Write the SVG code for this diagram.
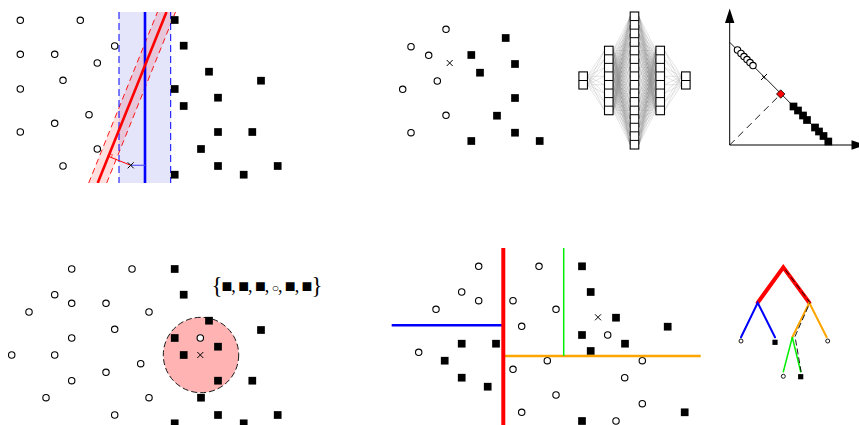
<svg xmlns="http://www.w3.org/2000/svg" xmlns:xlink="http://www.w3.org/1999/xlink" width="859" height="425" viewBox="0 0 859 425">
<style>
.c{fill:#fff;stroke:#000;stroke-width:1.1}
.q{fill:#000}
.xm{stroke:#000;stroke-width:1;fill:none}
.lc{fill:#fff;stroke:#000;stroke-width:0.9}
.nn{fill:none;stroke:#888;stroke-width:0.5;stroke-opacity:0.45}
.box{fill:#fff;stroke:#000;stroke-width:1.1}
</style>
<defs>
<circle id="o" class="c" r="3.2"/>
<rect id="s" class="q" x="-3.85" y="-3.85" width="7.7" height="7.7"/>
<path id="x" class="xm" d="M-3 -3L3 3M-3 3L3 -3"/>
<circle id="lo" class="lc" r="2"/>
<rect id="ls" class="q" x="-2.6" y="-2.6" width="5.2" height="5.2"/>
<clipPath id="clipA"><rect x="80" y="12" width="100" height="171"/></clipPath>
</defs>
<rect width="859" height="425" fill="#fff"/>

<!-- Panel 1: SVM vs linear -->
<g id="panel-svm">
<g clip-path="url(#clipA)">
<rect x="119" y="12" width="51.7" height="171" fill="#e4e4fb"/>
<polygon points="88.7,183 157.5,12 175.5,12 106.7,183" fill="#ff0000" fill-opacity="0.13"/>
<path d="M88.7 183L157.5 12M106.7 183L175.5 12" stroke="#ff0000" stroke-width="0.9" stroke-dasharray="6 4" fill="none"/>
<path d="M119 12V183M170.7 12V183" stroke="#0000ff" stroke-width="1" stroke-dasharray="7 4" fill="none"/>
<line x1="145" y1="12" x2="145" y2="183" stroke="#0000ff" stroke-width="2.6"/>
<line x1="97.7" y1="183" x2="166.5" y2="12" stroke="#ff0000" stroke-width="2.6"/>
</g>
<line x1="130.7" y1="165.3" x2="145" y2="165.3" stroke="#5555ff" stroke-width="1.2"/>
<line x1="130.7" y1="165.3" x2="108.5" y2="156.4" stroke="#ff0000" stroke-width="1"/>
<path d="M111.3 157.5L112.4 154.7L109.6 153.6" stroke="#ff0000" stroke-width="0.6" fill="none"/>
<use href="#o" x="20.3" y="20.3"/><use href="#o" x="80.3" y="20.3"/><use href="#o" x="114.7" y="46"/>
<use href="#o" x="20.3" y="54.3"/><use href="#o" x="54.7" y="54.3"/><use href="#o" x="97.3" y="63"/>
<use href="#o" x="63" y="80.3"/><use href="#o" x="20.3" y="89"/><use href="#o" x="89" y="114.7"/>
<use href="#o" x="54.7" y="123.3"/><use href="#o" x="20.3" y="132"/><use href="#o" x="97.3" y="149"/>
<use href="#o" x="63" y="166"/>
<use href="#s" x="174.7" y="20"/><use href="#s" x="183.7" y="45.7"/><use href="#s" x="209" y="71.7"/>
<use href="#s" x="261" y="80.7"/><use href="#s" x="174.7" y="89"/><use href="#s" x="218" y="97.7"/>
<use href="#s" x="183.7" y="106"/><use href="#s" x="218" y="132"/><use href="#s" x="252.3" y="132"/>
<use href="#s" x="201" y="149"/><use href="#s" x="218" y="166"/><use href="#s" x="277.7" y="166"/>
<use href="#s" x="174.7" y="174.7"/><use href="#s" x="243.7" y="174.7"/>
<use href="#x" x="130.7" y="165.3"/>
</g>

<!-- Panel 2: scatter -->
<g id="panel-scatter">
<use href="#o" x="446" y="29.3"/><use href="#o" x="411" y="46.7"/><use href="#o" x="428.7" y="55.3"/>
<use href="#o" x="437.3" y="81"/><use href="#o" x="402.7" y="89.3"/><use href="#o" x="446" y="115.3"/>
<use href="#o" x="411" y="132.7"/>
<use href="#s" x="505.7" y="38"/><use href="#s" x="471.3" y="55"/><use href="#s" x="515" y="64"/>
<use href="#s" x="480" y="72.7"/><use href="#s" x="515" y="98"/><use href="#s" x="497" y="115.7"/>
<use href="#s" x="515" y="132.7"/><use href="#s" x="471.3" y="141"/><use href="#s" x="539.7" y="141"/>
<use href="#x" x="449.7" y="63"/>
</g>

<!-- Panel 3: neural network -->
<g id="panel-nn">
<g id="nn-edges">
<path id="nnL" class="nn" d="M587.4 76.2L604.5 50.5M587.4 76.2L604.5 59.1M587.4 76.2L604.5 67.6M587.4 76.2L604.5 76.2M587.4 76.2L604.5 84.8M587.4 76.2L604.5 93.3M587.4 76.2L604.5 101.9M587.4 76.2L604.5 110.4
M587.4 84.8L604.5 50.5M587.4 84.8L604.5 59.1M587.4 84.8L604.5 67.6M587.4 84.8L604.5 76.2M587.4 84.8L604.5 84.8M587.4 84.8L604.5 93.3M587.4 84.8L604.5 101.9M587.4 84.8L604.5 110.4
M613.1 50.5L630.2 16.3M613.1 50.5L630.2 24.8M613.1 50.5L630.2 33.4M613.1 50.5L630.2 42M613.1 50.5L630.2 50.5M613.1 50.5L630.2 59.1M613.1 50.5L630.2 67.6M613.1 50.5L630.2 76.2M613.1 50.5L630.2 84.8M613.1 50.5L630.2 93.3M613.1 50.5L630.2 101.9M613.1 50.5L630.2 110.4M613.1 50.5L630.2 119M613.1 50.5L630.2 127.6M613.1 50.5L630.2 136.1M613.1 50.5L630.2 144.7
M613.1 59.1L630.2 16.3M613.1 59.1L630.2 24.8M613.1 59.1L630.2 33.4M613.1 59.1L630.2 42M613.1 59.1L630.2 50.5M613.1 59.1L630.2 59.1M613.1 59.1L630.2 67.6M613.1 59.1L630.2 76.2M613.1 59.1L630.2 84.8M613.1 59.1L630.2 93.3M613.1 59.1L630.2 101.9M613.1 59.1L630.2 110.4M613.1 59.1L630.2 119M613.1 59.1L630.2 127.6M613.1 59.1L630.2 136.1M613.1 59.1L630.2 144.7
M613.1 67.6L630.2 16.3M613.1 67.6L630.2 24.8M613.1 67.6L630.2 33.4M613.1 67.6L630.2 42M613.1 67.6L630.2 50.5M613.1 67.6L630.2 59.1M613.1 67.6L630.2 67.6M613.1 67.6L630.2 76.2M613.1 67.6L630.2 84.8M613.1 67.6L630.2 93.3M613.1 67.6L630.2 101.9M613.1 67.6L630.2 110.4M613.1 67.6L630.2 119M613.1 67.6L630.2 127.6M613.1 67.6L630.2 136.1M613.1 67.6L630.2 144.7
M613.1 76.2L630.2 16.3M613.1 76.2L630.2 24.8M613.1 76.2L630.2 33.4M613.1 76.2L630.2 42M613.1 76.2L630.2 50.5M613.1 76.2L630.2 59.1M613.1 76.2L630.2 67.6M613.1 76.2L630.2 76.2M613.1 76.2L630.2 84.8M613.1 76.2L630.2 93.3M613.1 76.2L630.2 101.9M613.1 76.2L630.2 110.4M613.1 76.2L630.2 119M613.1 76.2L630.2 127.6M613.1 76.2L630.2 136.1M613.1 76.2L630.2 144.7
M613.1 84.8L630.2 16.3M613.1 84.8L630.2 24.8M613.1 84.8L630.2 33.4M613.1 84.8L630.2 42M613.1 84.8L630.2 50.5M613.1 84.8L630.2 59.1M613.1 84.8L630.2 67.6M613.1 84.8L630.2 76.2M613.1 84.8L630.2 84.8M613.1 84.8L630.2 93.3M613.1 84.8L630.2 101.9M613.1 84.8L630.2 110.4M613.1 84.8L630.2 119M613.1 84.8L630.2 127.6M613.1 84.8L630.2 136.1M613.1 84.8L630.2 144.7
M613.1 93.3L630.2 16.3M613.1 93.3L630.2 24.8M613.1 93.3L630.2 33.4M613.1 93.3L630.2 42M613.1 93.3L630.2 50.5M613.1 93.3L630.2 59.1M613.1 93.3L630.2 67.6M613.1 93.3L630.2 76.2M613.1 93.3L630.2 84.8M613.1 93.3L630.2 93.3M613.1 93.3L630.2 101.9M613.1 93.3L630.2 110.4M613.1 93.3L630.2 119M613.1 93.3L630.2 127.6M613.1 93.3L630.2 136.1M613.1 93.3L630.2 144.7
M613.1 101.9L630.2 16.3M613.1 101.9L630.2 24.8M613.1 101.9L630.2 33.4M613.1 101.9L630.2 42M613.1 101.9L630.2 50.5M613.1 101.9L630.2 59.1M613.1 101.9L630.2 67.6M613.1 101.9L630.2 76.2M613.1 101.9L630.2 84.8M613.1 101.9L630.2 93.3M613.1 101.9L630.2 101.9M613.1 101.9L630.2 110.4M613.1 101.9L630.2 119M613.1 101.9L630.2 127.6M613.1 101.9L630.2 136.1M613.1 101.9L630.2 144.7
M613.1 110.4L630.2 16.3M613.1 110.4L630.2 24.8M613.1 110.4L630.2 33.4M613.1 110.4L630.2 42M613.1 110.4L630.2 50.5M613.1 110.4L630.2 59.1M613.1 110.4L630.2 67.6M613.1 110.4L630.2 76.2M613.1 110.4L630.2 84.8M613.1 110.4L630.2 93.3M613.1 110.4L630.2 101.9M613.1 110.4L630.2 110.4M613.1 110.4L630.2 119M613.1 110.4L630.2 127.6M613.1 110.4L630.2 136.1M613.1 110.4L630.2 144.7"/>
<use href="#nnL" transform="translate(1269 0) scale(-1 1)"/>
</g>
<g id="layer-in">
<rect class="box" x="578.9" y="71.9" width="8.56" height="17.12"/>
<path d="M578.9 80.5h8.56" stroke="#000" stroke-width="1"/>
</g>
<g id="layer-h1">
<rect class="box" x="604.5" y="46.24" width="8.56" height="68.48"/>
<path d="M604.5 54.8h8.56M604.5 63.36h8.56M604.5 71.92h8.56M604.5 80.48h8.56M604.5 89.04h8.56M604.5 97.6h8.56M604.5 106.16h8.56" stroke="#000" stroke-width="1"/>
</g>
<g id="layer-h2">
<rect class="box" x="630.2" y="12" width="8.56" height="137"/>
<path d="M630.2 20.56h8.56M630.2 29.12h8.56M630.2 37.68h8.56M630.2 46.24h8.56M630.2 54.8h8.56M630.2 63.36h8.56M630.2 71.92h8.56M630.2 80.48h8.56M630.2 89.04h8.56M630.2 97.6h8.56M630.2 106.16h8.56M630.2 114.72h8.56M630.2 123.28h8.56M630.2 131.84h8.56M630.2 140.4h8.56" stroke="#000" stroke-width="1"/>
</g>
<g id="layer-h3">
<rect class="box" x="655.94" y="46.24" width="8.56" height="68.48"/>
<path d="M655.94 54.8h8.56M655.94 63.36h8.56M655.94 71.92h8.56M655.94 80.48h8.56M655.94 89.04h8.56M655.94 97.6h8.56M655.94 106.16h8.56" stroke="#000" stroke-width="1"/>
</g>
<g id="layer-out">
<rect class="box" x="681.54" y="71.9" width="8.56" height="17.12"/>
<path d="M681.54 80.5h8.56" stroke="#000" stroke-width="1"/>
</g>
</g>

<!-- Panel 4: projection -->
<g id="panel-projection">
<path d="M729.7 145V20M729.7 145H853" stroke="#000" stroke-width="1" fill="none"/>
<polygon points="729.7,8.5 725,23 734.4,23" fill="#000"/>
<polygon points="866,145 851.5,140.2 851.5,149.8" fill="#000"/>
<line x1="729.7" y1="42.3" x2="831" y2="144" stroke="#000" stroke-width="0.9"/>
<line x1="729.7" y1="145" x2="777.5" y2="97.3" stroke="#000" stroke-width="0.9" stroke-dasharray="7 5"/>
<use href="#o" x="737.5" y="50"/><use href="#o" x="741" y="53.5"/><use href="#o" x="744" y="56.6"/>
<use href="#o" x="747" y="59.6"/><use href="#o" x="750" y="62.6"/><use href="#o" x="753" y="65.6"/>
<path d="M761 80L767 74M762 75.6L765.5 79" stroke="#000" stroke-width="1"/>
<use href="#s" x="793.5" y="106.5"/><use href="#s" x="798" y="110.5"/><use href="#s" x="803" y="115.5"/>
<use href="#s" x="807" y="120"/><use href="#s" x="815" y="127.5"/><use href="#s" x="819" y="131.5"/>
<use href="#s" x="823.5" y="136"/><use href="#s" x="828.3" y="141.5"/>
<polygon points="780.7,89.8 784.9,94 780.7,98.2 776.5,94" fill="#ff0000" stroke="#000" stroke-width="0.8"/>
</g>

<!-- Panel 5: kNN -->
<g id="panel-knn">
<circle cx="201" cy="355" r="37.7" fill="#ffb3b3" stroke="#000" stroke-width="0.9" stroke-dasharray="6 3"/>
<use href="#o" x="71.7" y="269"/><use href="#o" x="132" y="269"/><use href="#o" x="54.7" y="294.7"/>
<use href="#o" x="71.7" y="303.3"/><use href="#o" x="106" y="303.3"/><use href="#o" x="29" y="312"/>
<use href="#o" x="149" y="312"/><use href="#o" x="114.7" y="329.3"/><use href="#o" x="71.7" y="338"/>
<use href="#o" x="200.3" y="338"/><use href="#o" x="11.7" y="355"/><use href="#o" x="54.7" y="355"/>
<use href="#o" x="140.7" y="363.7"/><use href="#o" x="106" y="372.3"/><use href="#o" x="71.7" y="380.7"/>
<use href="#o" x="46" y="397.7"/><use href="#o" x="149" y="397.7"/><use href="#o" x="114.7" y="415"/>
<use href="#s" x="174.7" y="269"/><use href="#s" x="183.7" y="294.7"/><use href="#s" x="209" y="320.7"/>
<use href="#s" x="261" y="330"/><use href="#s" x="174.7" y="338"/><use href="#s" x="218" y="346.7"/>
<use href="#s" x="183.7" y="355"/><use href="#s" x="218" y="380.7"/><use href="#s" x="252.3" y="380.7"/>
<use href="#s" x="201" y="397.7"/><use href="#s" x="218" y="415"/><use href="#s" x="277.7" y="415"/>
<use href="#s" x="174.7" y="423.3"/><use href="#s" x="243.7" y="423.3"/>
<use href="#x" x="200.3" y="355"/>
<text x="211.5" y="293" font-family="Liberation Serif, serif" fill="#000" textLength="111" lengthAdjust="spacing"><tspan font-size="23">{</tspan><tspan font-size="18" dy="-1">■, ■, ■, </tspan><tspan font-size="12">○</tspan><tspan font-size="18">, ■, ■</tspan><tspan font-size="23" dy="1">}</tspan></text>
</g>

<!-- Panel 6: decision tree partition -->
<g id="panel-partition">
<use href="#o" x="478.7" y="266.3"/><use href="#o" x="539" y="266.3"/><use href="#o" x="461.7" y="292"/>
<use href="#o" x="478.7" y="300.7"/><use href="#o" x="513" y="300.7"/><use href="#o" x="436" y="309.3"/>
<use href="#o" x="556" y="309.3"/><use href="#o" x="521.7" y="326.3"/><use href="#o" x="607.7" y="335"/>
<use href="#o" x="418.7" y="352.3"/><use href="#o" x="547.3" y="360.7"/><use href="#o" x="642.3" y="360.7"/>
<use href="#o" x="513" y="369.3"/><use href="#o" x="624.7" y="377.7"/><use href="#o" x="556" y="395"/>
<use href="#o" x="642.3" y="403.7"/><use href="#o" x="521.7" y="412.3"/><use href="#o" x="616" y="421"/>
<use href="#s" x="582" y="266.3"/><use href="#s" x="590.7" y="292"/><use href="#s" x="616" y="317.7"/>
<use href="#s" x="667.7" y="326.7"/><use href="#s" x="461.7" y="343.7"/><use href="#s" x="496" y="343.7"/>
<use href="#s" x="582" y="335"/><use href="#s" x="625" y="343.7"/><use href="#s" x="590.7" y="351"/>
<use href="#s" x="444.7" y="360.7"/><use href="#s" x="461.7" y="377.7"/><use href="#s" x="487.7" y="386.7"/>
<use href="#s" x="684.7" y="412.3"/><use href="#s" x="582" y="421"/>
<use href="#x" x="598" y="317.3"/>
<line x1="391.7" y1="325.3" x2="503.3" y2="325.3" stroke="#0000ff" stroke-width="2.6"/>
<line x1="503.3" y1="356" x2="700.7" y2="356" stroke="#ffa500" stroke-width="2.6"/>
<line x1="563.7" y1="248" x2="563.7" y2="356" stroke="#00ee00" stroke-width="1.5"/>
<line x1="503.3" y1="248" x2="503.3" y2="425" stroke="#ff0000" stroke-width="4"/>
</g>

<!-- Panel 7: decision tree -->
<g id="panel-tree">
<g id="tree-edges" fill="none" stroke-linecap="round">
<path d="M757.7 302.7L783.3 267.3L809.3 302.7" stroke="#ff0000" stroke-width="4" stroke-linejoin="miter"/>
<path d="M741 337.3L757.7 302.7L775 337.3" stroke="#0000ff" stroke-width="2"/>
<path d="M792.3 337.3L809.3 302.7L826.7 337.3" stroke="#ffa500" stroke-width="2"/>
<path d="M783.3 371.7L792.3 337.3L800.7 371.7" stroke="#00ee00" stroke-width="1.5"/>
<path d="M785.5 270L810 302.5L795 336.5L801.5 374" stroke="#000" stroke-width="0.9" stroke-dasharray="6 3" stroke-linecap="butt"/>
</g>
<g id="leaf-1"><use href="#lo" x="741" y="341"/></g>
<g id="leaf-2"><use href="#ls" x="775" y="342.3"/></g>
<g id="leaf-3"><use href="#lo" x="827.7" y="341"/></g>
<g id="leaf-4"><use href="#lo" x="783.3" y="376.3"/></g>
<g id="leaf-5"><use href="#ls" x="800.7" y="376.7"/></g>
</g>
</svg>
